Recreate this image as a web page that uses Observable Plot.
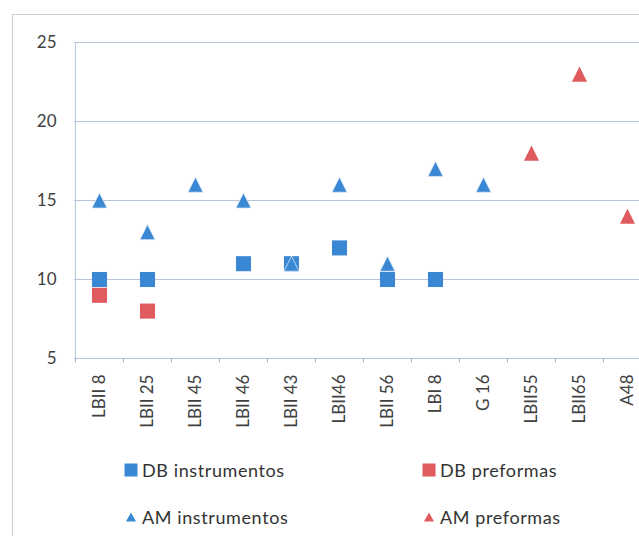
<!DOCTYPE html>
<html><head><meta charset="utf-8">
<script src="https://cdn.jsdelivr.net/npm/d3@7"></script>
<script src="https://cdn.jsdelivr.net/npm/@observablehq/plot@0.6"></script>
<style>
body{margin:0;background:#fff;}
#wrap{position:relative;width:639px;height:536px;overflow:hidden;font-family:Lato,sans-serif;color:#333;}
#frame{position:absolute;left:12px;top:14px;width:700px;height:600px;border:1.5px solid #c5cdd9;box-sizing:border-box;}
#chart{position:absolute;left:0;top:0;}
#legend{position:absolute;left:124px;top:446px;display:grid;grid-template-columns:298px 200px;grid-auto-rows:47px;}
.item{display:flex;align-items:center;font-size:18px;letter-spacing:0.6px;white-space:nowrap;line-height:20px;}
.item svg{margin-right:4px;}
</style></head>
<body><div id="wrap"><div id="frame"></div><div id="chart"></div><div id="legend"></div></div>
<script>
const categories = ["LBII 8","LBII 25","LBII 45","LBII 46","LBII 43","LBII46","LBII 56","LBI 8","G 16","LBII55","LBII65","A48"];
const dbInstrumentos = [10,10,null,11,11,12,10,10,null,null,null,null];
const dbPreformas    = [9,8,null,null,null,null,null,null,null,null,null,null];
const amInstrumentos = [15,13,16,15,11,16,11,17,16,null,null,null];
const amPreformas    = [null,null,null,null,null,null,null,null,null,18,23,14];
const yTicks = [5,10,15,20,25];
const seriesNames = ["DB instrumentos","DB preformas","AM instrumentos","AM preformas"];

const BLUE = "#3a87d4", RED = "#e05b5e";
const rows = (vals) => categories.map((c,i)=>({cat:c, v:vals[i]})).filter(d=>d.v!=null);
const tri = {draw(ctx, size){const h=Math.sqrt(size);ctx.moveTo(0,-h/2);ctx.lineTo(h/2,h/2);ctx.lineTo(-h/2,h/2);ctx.closePath();}};

const left = 74, step = 48.17;
const chart = Plot.plot({
  width: 639, height: 440,
  marginLeft: left, marginRight: 0, marginTop: 42, marginBottom: 82,
  x: {type:"band", domain: categories, padding: 0, range:[left, left + categories.length*step], label:null},
  y: {domain:[5,25], label:null},
  style: {fontFamily:"Lato, sans-serif", fontSize:"17px", color:"#404040", background:"transparent"},
  marks: [
    Plot.gridY(yTicks, {stroke:"#b6c5da", strokeOpacity:1, strokeWidth:1}),
    Plot.ruleX([categories[0]], {dx:-step/2, y1:5, y2:25, stroke:"#b6c5da"}),
    Plot.ruleX(categories, {dx:-step/2, y1:5, y2:4.72, stroke:"#9fb0c8"}),
    Plot.axisY(yTicks, {tickSize:0, tickPadding:18, fontSize:17, label:null}),
    Plot.axisX({tickSize:0, tickRotate:-90, tickPadding:16, fontSize:17, label:null}),
    Plot.dot(rows(dbPreformas), {x:"cat", y:"v", symbol:"square", r:8.5, fill:RED}),
    Plot.dot(rows(dbInstrumentos), {x:"cat", y:"v", symbol:"square", r:8.5, fill:BLUE}),
    Plot.dot(rows(amInstrumentos), {x:"cat", y:"v", symbol:tri, r:8.5, fill:BLUE, stroke:"#dbe8f6", strokeWidth:0.8}),
    Plot.dot(rows(amPreformas), {x:"cat", y:"v", symbol:tri, r:8.5, fill:RED})
  ]
});
document.getElementById("chart").appendChild(chart);

const legendColors = [BLUE, RED, BLUE, RED];
const legendShapes = ["square","square","triangle","triangle"];
const lg = document.getElementById("legend");
seriesNames.forEach((name,i)=>{
  const it = document.createElement("div"); it.className="item";
  const shape = legendShapes[i]==="square"
    ? `<svg width="14" height="14"><rect x="0.5" y="0.5" width="13" height="13" fill="${legendColors[i]}"/></svg>`
    : `<svg width="14" height="14"><path d="M7,2.5L12,11.5L2,11.5Z" fill="${legendColors[i]}"/></svg>`;
  it.innerHTML = shape + `<span>${name}</span>`;
  lg.appendChild(it);
});
</script>
</body></html>
